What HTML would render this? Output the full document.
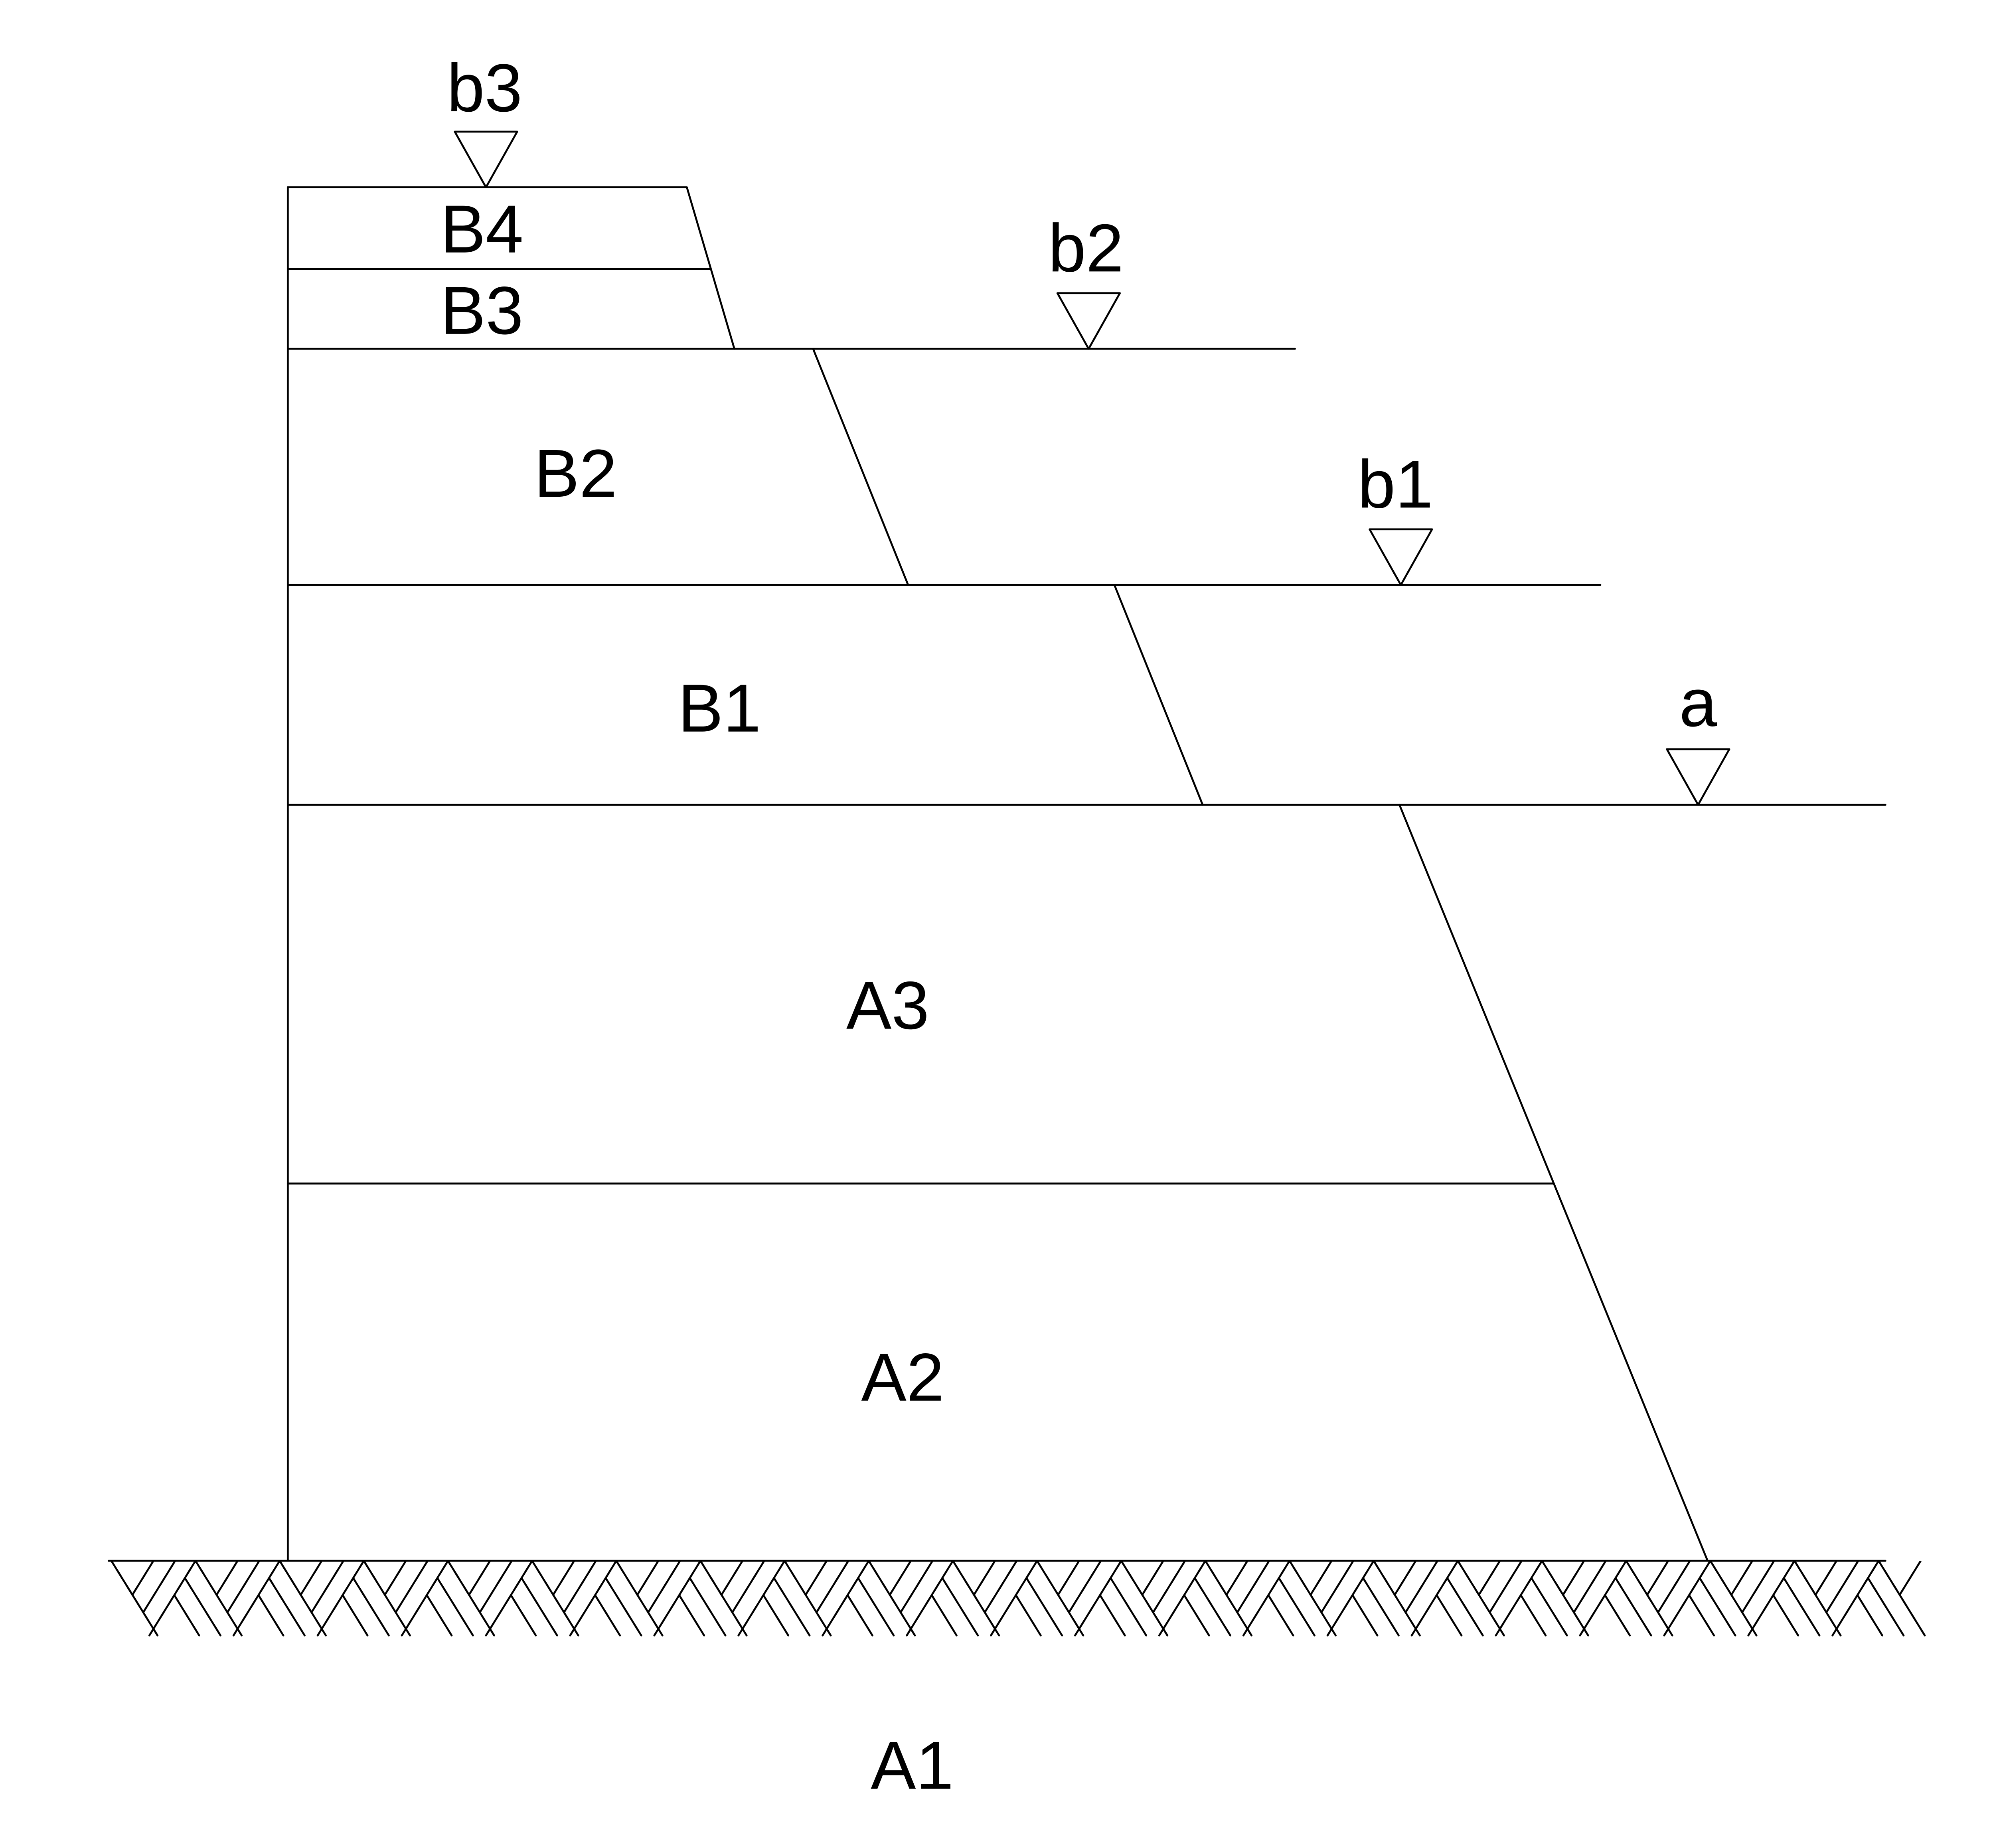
<!DOCTYPE html>
<html><head><meta charset="utf-8"><style>
html,body{margin:0;padding:0;background:#fff;overflow:hidden;width:5314px;height:4632px;}
svg{display:block;}
text{font-family:"Liberation Sans",Arial,sans-serif;font-size:50px;fill:#000;text-anchor:middle;}
</style></head><body>
<svg id="s" width="5314" height="4632" viewBox="0 0 1562 1361.6" xmlns="http://www.w3.org/2000/svg">
<defs><clipPath id="c"><rect x="78" y="1150" width="1346" height="56"/></clipPath></defs>
<g stroke="#000" stroke-width="1.4" fill="none" stroke-linecap="round" stroke-linejoin="round">
<line x1="212" y1="138" x2="212" y2="1150"/>
<polyline points="212,138 506,138 541,257"/>
<line x1="212" y1="198" x2="523" y2="198"/>
<line x1="212" y1="257" x2="954" y2="257"/>
<line x1="599" y1="257" x2="669" y2="431"/>
<line x1="212" y1="431" x2="1179" y2="431"/>
<line x1="821" y1="431" x2="886" y2="593"/>
<line x1="212" y1="593" x2="1389" y2="593"/>
<line x1="1031" y1="593" x2="1258" y2="1150"/>
<line x1="212" y1="872" x2="1144" y2="872"/>
<line x1="80" y1="1150" x2="1389" y2="1150"/>
<polygon points="335,97 381,97 358,138"/>
<polygon points="779,216 825,216 802,257"/>
<polygon points="1009,390 1055,390 1032,431"/>
<polygon points="1228,552 1274,552 1251,593"/>
<g id="h" clip-path="url(#c)"></g>
</g>
<text x="357" y="82">b3</text>
<text x="355" y="186">B4</text>
<text x="355" y="246">B3</text>
<text x="800" y="200">b2</text>
<text x="424" y="366">B2</text>
<text x="1028" y="374">b1</text>
<text x="530" y="539">B1</text>
<text x="1251" y="535">a</text>
<text x="654" y="758">A3</text>
<text x="665" y="1032">A2</text>
<text x="672" y="1318">A1</text>
</svg>
<script>
(function(){
var g=document.getElementById('h'),y0=1150,h=55,r=34,P=62,out='';
function L(x1,y1,x2,y2){
 if(Math.min(x1,x2)<78||Math.max(x1,x2)>1424)return;
 out+='<line x1="'+x1.toFixed(1)+'" y1="'+y1.toFixed(1)+'" x2="'+x2.toFixed(1)+'" y2="'+y2.toFixed(1)+'"/>';}
for(var k=-1;k<=21;k++){
 var a=144+P*k;
 L(a,y0,a+r,y0+h);
 L(a,y0,a-r,y0+h);
 [0.23,0.46].forEach(function(t){L(a-r*t,y0+h*t,a-r*t+r*(1-t),y0+h);});
 [31,47].forEach(function(d){var t=d/(2*r);L(a+d,y0,a+d-r*t,y0+h*t);});
}
g.innerHTML=out;
})();
</script>
</body></html>
